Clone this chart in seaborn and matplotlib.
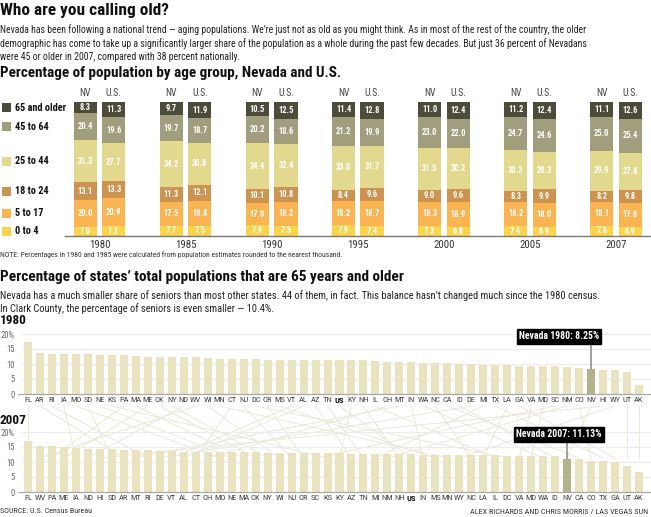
import numpy as np
import pandas as pd
import matplotlib
matplotlib.use("Agg")
import matplotlib.pyplot as plt
import seaborn as sns
from matplotlib import font_manager as fm
from matplotlib.lines import Line2D
from matplotlib.patches import Rectangle

# ---------------- data ----------------
years = ["1980", "1985", "1990", "1995", "2000", "2005", "2007"]
age_groups = ["0 to 4", "5 to 17", "18 to 24", "25 to 44", "45 to 64", "65 and older"]
age_colors = ["#fbd44b", "#fab552", "#cd9350", "#e2d98e", "#a09e7c", "#4d4c3b"]

nv_0_4 = [7.0, 7.7, 7.9, 7.9, 7.3, 7.4, 7.6]
nv_5_17 = [20.0, 17.5, 17.0, 18.2, 18.3, 18.2, 18.1]
nv_18_24 = [13.1, 11.3, 10.1, 8.4, 9.0, 8.3, 8.2]
nv_25_44 = [31.3, 34.2, 34.4, 33.0, 31.5, 30.2, 29.9]
nv_45_64 = [20.4, 19.7, 20.2, 21.2, 23.0, 24.7, 25.0]
nv_65 = [8.3, 9.7, 10.5, 11.4, 11.0, 11.2, 11.1]

us_0_4 = [7.2, 7.5, 7.5, 7.4, 6.8, 6.9, 6.9]
us_5_17 = [20.9, 18.8, 18.2, 18.7, 18.9, 18.0, 17.6]
us_18_24 = [13.3, 12.1, 10.8, 9.6, 9.6, 9.9, 9.8]
us_25_44 = [27.7, 30.8, 32.4, 31.7, 30.2, 28.3, 27.8]
us_45_64 = [19.6, 18.7, 18.6, 19.9, 22.0, 24.6, 25.4]
us_65 = [11.3, 11.9, 12.5, 12.8, 12.4, 12.4, 12.6]

states_1980 = ["FL", "AR", "RI", "IA", "MO", "SD", "NE", "KS", "PA", "MA", "ME", "OK", "NY", "ND",
               "WV", "WI", "MN", "CT", "NJ", "DC", "OR", "MS", "VT", "AL", "AZ", "TN", "US", "KY",
               "NH", "IL", "OH", "MT", "IN", "WA", "NC", "CA", "ID", "DE", "MI", "TX", "LA", "GA",
               "VA", "MD", "SC", "NM", "CO", "NV", "HI", "WY", "UT", "AK"]
pct_1980 = [17.3, 13.7, 13.4, 13.3, 13.2, 13.2, 13.1, 13.0, 12.9, 12.7, 12.5, 12.4, 12.3, 12.3,
            12.2, 12.0, 11.8, 11.7, 11.7, 11.6, 11.5, 11.5, 11.4, 11.3, 11.3, 11.3, 11.3, 11.2,
            11.2, 11.0, 10.8, 10.7, 10.7, 10.4, 10.3, 10.2, 10.0, 10.0, 9.8, 9.6, 9.6, 9.5,
            9.5, 9.4, 9.2, 8.9, 8.6, 8.25, 7.9, 7.9, 7.5, 2.9]

states_2007 = ["FL", "WV", "PA", "ME", "IA", "ND", "HI", "SD", "AR", "MT", "RI", "DE", "VT", "AL",
               "CT", "OH", "MO", "NE", "MA", "OK", "NY", "WI", "NJ", "OR", "SC", "KS", "KY", "AZ",
               "TN", "MI", "NM", "NH", "US", "IN", "MS", "MN", "WY", "NC", "LA", "IL", "DC", "VA",
               "MD", "WA", "ID", "NV", "CA", "CO", "TX", "GA", "UT", "AK"]
pct_2007 = [17.0, 15.4, 15.2, 14.9, 14.7, 14.5, 14.3, 14.2, 14.0, 13.9, 13.9, 13.6, 13.6, 13.5,
            13.5, 13.4, 13.3, 13.3, 13.3, 13.2, 13.1, 13.1, 13.0, 12.9, 12.9, 12.9, 12.9, 12.8,
            12.8, 12.7, 12.7, 12.7, 12.6, 12.5, 12.5, 12.4, 12.3, 12.3, 12.3, 12.2, 12.1, 12.0,
            11.9, 11.9, 11.9, 11.13, 10.9, 10.3, 10.2, 10.1, 8.8, 6.8]

# ---------------- fonts ----------------
def avail(name):
    try:
        fm.findfont(fm.FontProperties(family=name), fallback_to_default=False)
        return True
    except Exception:
        return False

sns.set_theme(style="white")
NARROW = next(c for c in ["Liberation Sans Narrow", "Roboto Condensed", "Open Sans Condensed",
                          "Noto Sans Condensed", "Roboto", "DejaVu Sans"] if avail(c))
plt.rcParams["font.family"] = [NARROW, "DejaVu Sans"]

W, H = 651, 517
fig = plt.figure(figsize=(W / 100, H / 100), dpi=100)
fig.patch.set_facecolor("white")
renderer = fig.canvas.get_renderer()


def fit_size(s, w, weight="normal"):
    t = fig.text(0, 0, s, fontsize=10, weight=weight)
    bb = t.get_window_extent(renderer=renderer)
    t.remove()
    return 10 * w / bb.width


def ftext(x, y, s, w=None, size=8, **kw):
    if w:
        size = fit_size(s, w, kw.get("weight", "normal"))
    return fig.text(x / W, 1 - y / H, s, fontsize=size, **kw)


def ax_px(left, top, right, bottom):
    return fig.add_axes([left / W, 1 - bottom / H, (right - left) / W, (bottom - top) / H])


# ---------------- header texts ----------------
ftext(0, 10, "Who are you calling old?", w=168, weight="bold", va="center", color="#111")
body1 = ["Nevada has been following a national trend \u2014 aging populations. We\u2019re just not as old as you might think. As in most of the rest of the country, the older",
         "demographic has come to take up a significantly larger share of the population as a whole during the past few decades. But just 36 percent of Nevadans",
         "were 45 or older in 2007, compared with 38 percent nationally."]
body_size = fit_size(body1[1], 582)
for i, s in enumerate(body1):
    ftext(0, 30 + 13.5 * i, s, size=body_size, va="center", color="#222")
ftext(0, 73, "Percentage of population by age group, Nevada and U.S.", w=342, weight="bold",
      va="center", color="#111")

# ---------------- stacked bar chart ----------------
ax = ax_px(65, 102, 651, 236)
ax.set_facecolor("none")
nv_vals = [nv_0_4, nv_5_17, nv_18_24, nv_25_44, nv_45_64, nv_65]
us_vals = [us_0_4, us_5_17, us_18_24, us_25_44, us_45_64, us_65]
nv_cum = np.cumsum(np.array(nv_vals), axis=0)
us_cum = np.cumsum(np.array(us_vals), axis=0)
for k in reversed(range(6)):
    df = pd.DataFrame({"year": years * 2,
                       "region": ["NV"] * 7 + ["U.S."] * 7,
                       "cum": list(nv_cum[k]) + list(us_cum[k])})
    sns.barplot(data=df, x="year", y="cum", hue="region", hue_order=["NV", "U.S."],
                palette=[age_colors[k], age_colors[k]], width=0.663, gap=0.19,
                saturation=1, errorbar=None, legend=False, ax=ax, linewidth=0)
ax.set_xlim(-0.40, 6.405)
ax.set_ylim(0, 100.1)
for sp in ["top", "right", "left"]:
    ax.spines[sp].set_visible(False)
ax.spines["bottom"].set_color("#7a7a7a")
ax.spines["bottom"].set_linewidth(1.0)
ax.set_yticks([])
ax.set_xlabel("")
ax.set_ylabel("")
ax.tick_params(axis="x", length=0, pad=3, labelsize=7.8, labelcolor="#333")
seg_size = fit_size("20.0", 15.5, weight="bold")
off = 0.663 / 4
for i in range(7):
    for r, (vals, cum, o) in enumerate([(nv_vals, nv_cum, -off), (us_vals, us_cum, off)]):
        for k in range(6):
            v = vals[k][i]
            c = cum[k][i] - v / 2
            ax.text(i + o, c, f"{v:.1f}", ha="center", va="center", color="white",
                    weight="bold", fontsize=seg_size)
        ax.text(i + o, 106.5, "NV" if r == 0 else "U.S.", ha="center", va="center",
                color="#444", fontsize=7.0, clip_on=False)

# legend
leg_size = fit_size("65 and older", 51, weight="bold")
for k in range(6):
    cy_disp = ax.transData.transform((0, nv_cum[k][0] - nv_vals[k][0] / 2))[1]
    cy = H - cy_disp
    fig.add_artist(Rectangle((2 / W, 1 - (cy + 4.5) / H), 9 / W, 9 / H,
                             transform=fig.transFigure, color=age_colors[k], lw=0))
    ftext(15, cy, age_groups[k], size=leg_size, weight="bold", va="center", color="#111")

ftext(0, 255, "NOTE: Percentages in 1980 and 1985 were calculated from population estimates rounded to the nearest thousand.",
      w=345, va="center", color="#333")

# ---------------- second section texts ----------------
ftext(0, 277, "Percentage of states\u2019 total populations that are 65 years and older", w=405,
      weight="bold", va="center", color="#111")
body2 = ["Nevada has a much smaller share of seniors than most other states. 44 of them, in fact. This balance hasn\u2019t changed much since the 1980 census.",
         "In Clark County, the percentage of seniors is even smaller \u2014 10.4%."]
body2_size = fit_size(body2[0], 594)
for i, s in enumerate(body2):
    ftext(0, 296 + 13.0 * i, s, size=body2_size, va="center", color="#222")

BAR = "#e9e3c0"
HL = "#b3b28a"


def state_chart(top, bottom, states, pct, year, label_y):
    a = ax_px(22, top, 651, bottom)
    a.set_facecolor("none")
    df = pd.DataFrame({"state": states, "pct": pct})
    pal = {s: (HL if s == "NV" else BAR) for s in states}
    sns.barplot(data=df, x="state", y="pct", hue="state", palette=pal, width=0.67,
                saturation=1, errorbar=None, legend=False, ax=a, linewidth=0, zorder=3)
    a.set_xlim(-0.5, 52.0)
    a.set_ylim(0, 20)
    for sp in a.spines.values():
        sp.set_visible(False)
    for g in [5, 10, 15, 20]:
        a.axhline(g, color="#ececec", lw=0.8, zorder=1)
    a.plot([-0.85, 52.0], [0, 0], color="#a8a8a8", lw=0.9, zorder=4, clip_on=False)
    a.set_yticks([0, 5, 10, 15, 20])
    a.set_yticklabels(["0", "5", "10", "15", "20%"])
    a.tick_params(axis="y", length=0, pad=5, labelsize=6.2, labelcolor="#666")
    a.set_xticks(range(len(states)))
    a.set_xticklabels(states)
    a.tick_params(axis="x", length=0, pad=2.5, labelsize=6.1, labelcolor="#444")
    for lab in a.get_xticklabels():
        if lab.get_text() == "US":
            lab.set_fontweight("bold")
            lab.set_color("#111")
    a.set_xlabel("")
    a.set_ylabel("")
    ftext(0, label_y, year, size=9.5, weight="bold", va="center", color="#111")
    i_nv = states.index("NV")
    v_nv = pct[states.index("NV")]
    a.plot([i_nv, i_nv], [v_nv, 17.4], color="#999999", lw=1.3, zorder=5, clip_on=False)
    a.text(44.3, 19.2, f"Nevada {year}: {v_nv:.2f}%", ha="center", va="center", color="white",
           weight="bold", fontsize=7.0, zorder=6, clip_on=False,
           bbox=dict(boxstyle="square,pad=0.22", fc="black", ec="black"))
    return a


a80 = state_chart(334, 394, states_1980, pct_1980, "1980", 321)
a07 = state_chart(432, 492, states_2007, pct_2007, "2007", 421)

# connecting lines between 1980 and 2007 ranks
for s in states_1980:
    x1 = a80.transData.transform((states_1980.index(s), 0))[0]
    x2 = a07.transData.transform((states_2007.index(s), 0))[0]
    fig.add_artist(Line2D([x1 / W, x2 / W], [1 - 406 / H, 1 - 458 / H],
                          transform=fig.transFigure, color="#ebe8d9", lw=0.7, zorder=-1))

# ---------------- footer ----------------
ftext(0, 511, "SOURCE: U.S. Census Bureau", w=92, va="center", color="#333")
ftext(648, 511, "ALEX RICHARDS AND CHRIS MORRIS / LAS VEGAS SUN", w=178, va="center",
      ha="right", color="#333")

fig.savefig("out.png", dpi=100, facecolor="white")
